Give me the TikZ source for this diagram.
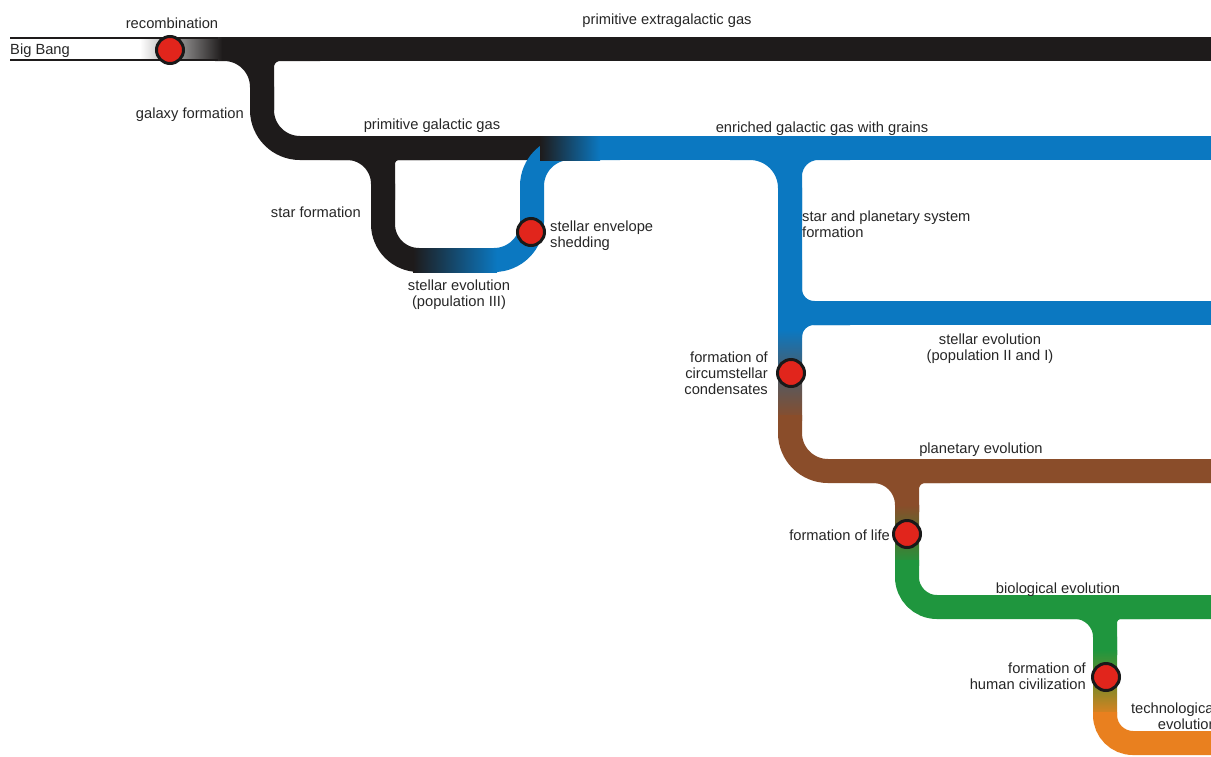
\documentclass[tikz,border=0pt]{standalone}
\usepackage{fontspec}
\setmainfont{Liberation Sans}
\definecolor{cblack}{HTML}{1E1B1B}
\definecolor{cblue}{HTML}{0B78C1}
\definecolor{cbrown}{HTML}{8A4D2A}
\definecolor{cgreen}{HTML}{1F963E}
\definecolor{corange}{HTML}{E9801F}
\definecolor{cgray}{HTML}{4F5B66}
\definecolor{colive}{HTML}{55702F}
\definecolor{colivetwo}{HTML}{7A8A2A}
\definecolor{dotred}{HTML}{E1251C}
\begin{document}
\begin{tikzpicture}[x=1pt,y=-1pt,
  tube/.style={line width=24pt},
  lbl/.style={font=\fontsize{14.7}{16}\selectfont, inner sep=0pt, text=black!85},
  event/.style={circle, fill=dotred, draw=black!90, line width=3pt, minimum size=27pt, inner sep=0pt}]
\useasboundingbox (0,0) rectangle (1211,756);
\clip (0,0) rectangle (1211,756);
% galaxy formation branch and primitive galactic gas
\draw[tube, cblack, rounded corners=38pt] (215,49) -- (262,49) -- (262,148) -- (548,148);
\draw[tube, cblack, rounded corners=18pt] (320,49) -- (262,49) -- (262,110);
% top band
\draw[tube, cblack] (220,49) -- (1211,49);
\shade[left color=white, right color=cblack] (140,37.75) rectangle (222,60.25);
\draw[line width=1.5pt, cblack] (10,38) -- (218,38) (10,60) -- (218,60);
% star formation
\draw[tube, cblack, rounded corners=36pt] (330,148) -- (383,148) -- (383,260) -- (460,260);
\draw[tube, cblack, rounded corners=16pt] (430,148) -- (383,148) -- (383,200);
% blue S
\draw[tube, cblue, rounded corners=38pt] (480,260) -- (532,260) -- (532,148) -- (620,148);
\shade[left color=cblack, right color=cblue] (413,248) rectangle (497,272);
\shade[left color=cblack, right color=cblue] (540,136) rectangle (600,160);
% enriched band
\draw[tube, cblue] (600,148) -- (1211,148);
% star & planetary
\draw[tube, cblue, rounded corners=40pt] (730,148) -- (790,148) -- (790,335);
\draw[tube, cblue, rounded corners=28pt] (850,148) -- (790,148) -- (790,220);
\draw[tube, cblue] (790,313) -- (1211,313);
\draw[tube, cblue, rounded corners=24pt] (790,260) -- (790,313) -- (850,313);
\draw[tube, cblue, rounded corners=24pt] (790,335) -- (790,313) -- (850,313);
\shade[top color=cblue, bottom color=cbrown, middle color=cgray] (778,330) rectangle (802,420);
% brown
\draw[tube, cbrown, rounded corners=38pt] (790,415) -- (790,471) -- (1211,471);
\draw[tube, cbrown, rounded corners=34pt] (860,471) -- (907,471) -- (907,512);
\draw[tube, cbrown, rounded corners=18pt] (950,471) -- (907,471) -- (907,512);
\shade[top color=cbrown, bottom color=cgreen, middle color=colive] (895,505) rectangle (919,565);
% green
\draw[tube, cgreen, rounded corners=30pt] (907,560) -- (907,607) -- (1211,607);
\draw[tube, cgreen, rounded corners=30pt] (1060,607) -- (1105,607) -- (1105,655);
\draw[tube, cgreen, rounded corners=16pt] (1150,607) -- (1105,607) -- (1105,655);
\shade[top color=cgreen, bottom color=corange, middle color=colivetwo] (1093,650) rectangle (1117,718);
% orange
\draw[tube, corange, rounded corners=28pt] (1105,712) -- (1105,743) -- (1211,743);
% events
\node[event] (recomb) at (170,50) {};
\node[event] (shed) at (531,232) {};
\node[event] (cond) at (791,373) {};
\node[event] (life) at (907,534) {};
\node[event] (civ) at (1106,677) {};
% labels
\node[lbl, anchor=base] (trec) at (172,28) {recombination};
\node[lbl, anchor=base west] (tbb) at (10,54) {Big Bang};
\node[lbl, anchor=base] (tpeg) at (667,24) {primitive extragalactic gas};
\node[lbl, anchor=base east] (tgf) at (244,118) {galaxy formation};
\node[lbl, anchor=base] (tpgg) at (432,129) {primitive galactic gas};
\node[lbl, anchor=base] (tegg) at (822,132) {enriched galactic gas with grains};
\node[lbl, anchor=base east] (tsf) at (361,217) {star formation};
\node[lbl, anchor=base west, align=left] (tses) at (550,247) {stellar envelope\\shedding};
\node[lbl, anchor=base, align=center] (tse3) at (459,306) {stellar evolution\\(population III)};
\node[lbl, anchor=base west, align=left] (tsps) at (802,237) {star and planetary system\\formation};
\node[lbl, anchor=base, align=center] (tse12) at (990,360) {stellar evolution\\(population II and I)};
\node[lbl, anchor=base east, align=right] (tcc) at (768,394) {formation of\\circumstellar\\condensates};
\node[lbl, anchor=base] (tpe) at (981,453) {planetary evolution};
\node[lbl, anchor=base east] (tfl) at (890,540) {formation of life};
\node[lbl, anchor=base] (tbe) at (1058,593) {biological evolution};
\node[lbl, anchor=base east, align=right] (thc) at (1086,689) {formation of\\human civilization};
\node[lbl, anchor=base east, align=right] (tte) at (1217,729) {technological\\evolution};
\end{tikzpicture}
\end{document}
